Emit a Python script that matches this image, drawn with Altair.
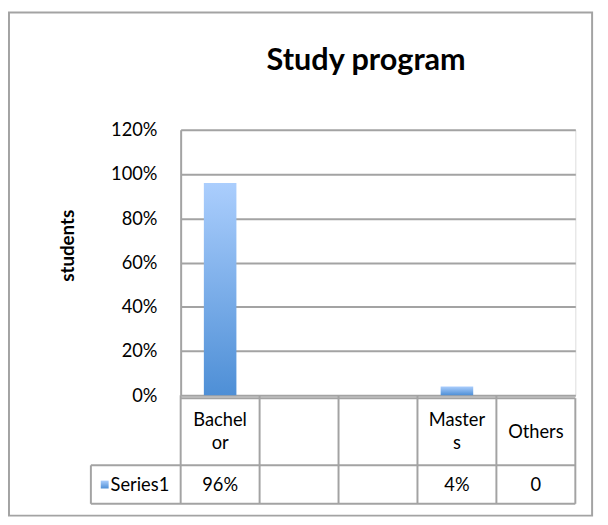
import altair as alt
import pandas as pd

# ---- data ----
categories = ["Bachelor", "", "", "Masters", "Others"]
header_labels = ["Bachel\nor", "", "", "Master\ns", "Others"]
values = [0.96, None, None, 0.04, 0.0]
value_labels = ["96%", "", "", "4%", "0"]
y_ticks = [0, 0.2, 0.4, 0.6, 0.8, 1.0, 1.2]
series_name = "Series1"
chart_title = "Study program"
y_title = "students"

keys = [f"k{i}" for i in range(len(categories))]
df = pd.DataFrame({
    "key": keys,
    "category": categories,
    "header": header_labels,
    "value": values,
    "label": value_labels,
})
one = pd.DataFrame({"series": [series_name], "title": [chart_title]})

FONT = "Lato"
FS = 18.5
GRID = "#a3a3a3"
W, H = 400, 269

# table geometry (pixels relative to plot origin)
T_TOP, T_MID, T_BOT = 272, 340, 379
T_LEFT = -91
LH = 23

xenc = alt.X("key:N", sort=keys, scale=alt.Scale(paddingInner=0, paddingOuter=0), axis=None)

gradient = alt.Gradient(
    gradient="linear",
    stops=[alt.GradientStop(color="#abcefd", offset=0),
           alt.GradientStop(color="#4e8fd6", offset=1)],
    x1=0, x2=0, y1=0, y2=1,
)

bars = alt.Chart(df).mark_bar(color=gradient, size=33).encode(
    x=xenc,
    y=alt.Y(
        "value:Q",
        scale=alt.Scale(domain=[0, 1.2], nice=False),
        axis=alt.Axis(
            values=y_ticks, format=".0%", grid=True, gridColor=GRID, gridWidth=2,
            domain=True, domainColor=GRID, domainWidth=2, ticks=False,
            labelFont=FONT, labelFontSize=FS, labelColor="black", labelPadding=24,
            title=y_title, titleFont=FONT, titleFontSize=19, titleFontWeight="bold",
            titleColor="black", titleX=-115, titleY=117, titleBaseline="middle",
            titleAlign="center",
        ),
    ),
)

# table lines
def hrule(x1, x2, y):
    return alt.Chart(one).mark_rule(color=GRID, strokeWidth=2).encode(
        x=alt.value(x1), x2=alt.value(x2), y=alt.value(y))

def vrule(x, y1, y2):
    return alt.Chart(one).mark_rule(color=GRID, strokeWidth=2).encode(
        x=alt.value(x), y=alt.value(y1), y2=alt.value(y2))

col_lines = alt.Chart(df).mark_rule(color=GRID, strokeWidth=2).encode(
    x=alt.X("key:N", sort=keys, bandPosition=0, scale=alt.Scale(paddingInner=0, paddingOuter=0), axis=None),
    y=alt.value(H), y2=alt.value(T_BOT),
)

hdr_mid = (T_TOP + T_MID) / 2
header_multi = alt.Chart(df).transform_filter(
    "indexof(datum.header, '\\n') >= 0"
).mark_text(
    font=FONT, fontSize=FS, color="black", lineBreak="\n", lineHeight=LH,
    baseline="middle", align="center",
).encode(x=xenc, y=alt.value(hdr_mid - LH / 2), text="header:N")

header_single = alt.Chart(df).transform_filter(
    "indexof(datum.header, '\\n') < 0"
).mark_text(
    font=FONT, fontSize=FS, color="black", baseline="middle", align="center",
).encode(x=xenc, y=alt.value(hdr_mid), text="header:N")

val_mid = (T_MID + T_BOT) / 2
value_text = alt.Chart(df).mark_text(
    font=FONT, fontSize=FS, color="black", baseline="middle", align="center",
).encode(x=xenc, y=alt.value(val_mid + 1), text="label:N")

series_text = alt.Chart(one).mark_text(
    font=FONT, fontSize=FS, color="black", baseline="middle", align="left",
).encode(x=alt.value(-71), y=alt.value(val_mid + 1), text="series:N")

swatch = alt.Chart(one).mark_rect(color=gradient).encode(
    x=alt.value(-81), x2=alt.value(-73),
    y=alt.value(val_mid - 4), y2=alt.value(val_mid + 4),
)

title_text = alt.Chart(one).mark_text(
    font=FONT, fontSize=31, fontWeight="bold", color="black",
    baseline="alphabetic", align="center",
).encode(x=alt.value(188), y=alt.value(-61), text="title:N")

frame = alt.Chart(one).mark_rect(fill="transparent", stroke=GRID, strokeWidth=2).encode(
    x=alt.value(-174), x2=alt.value(417), y=alt.value(-119), y2=alt.value(391))

chart = alt.layer(
    frame,
    bars,
    col_lines,
    vrule(W, T_TOP, T_BOT),
    vrule(T_LEFT, T_MID, T_BOT),
    hrule(0, W, T_TOP),
    hrule(T_LEFT, W, T_MID),
    hrule(T_LEFT, W, T_BOT),
    header_multi,
    header_single,
    value_text,
    series_text,
    swatch,
    title_text,
).properties(
    width=W, height=H,
    autosize=alt.AutoSizeParams(type="none"),
    padding={"left": 175, "top": 120, "right": 25, "bottom": 128},
).configure_view(stroke=None).configure(background="white")

chart.save("out.html", embed_options={"renderer": "svg", "actions": False})
